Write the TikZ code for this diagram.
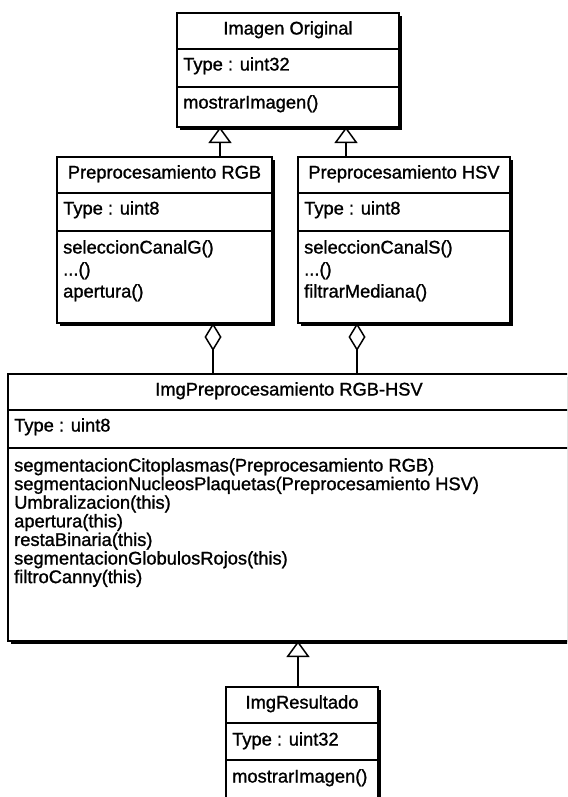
\documentclass[tikz,border=0pt]{standalone}
\usepackage{fontspec}
\setmainfont{Liberation Sans}
\newfontfamily\umlfont{Liberation Sans}[FakeBold=1.2]
\usetikzlibrary{arrows.meta,calc,shadows}
\begin{document}
\begin{tikzpicture}[x=1pt,y=-1pt,
  box/.style={draw=black, fill=white, line width=1.5pt, inner sep=0pt, outer sep=0pt, anchor=north west,
    general shadow={fill=black, shadow xshift=2.6pt, shadow yshift=-2.6pt}},
  sepline/.style={draw=black, line width=1.5pt},
  ttl/.style={font=\umlfont\fontsize{18.3}{20}\selectfont, inner sep=0pt, text height=13pt, text depth=4pt},
  mem/.style={ttl, anchor=west},
  inh/.style={draw=black, line width=1.5pt, -{Triangle[open, width=23pt, length=16pt, line width=1.5pt]}},
  agg/.style={draw=black, line width=1.5pt, -{Diamond[open, width=17pt, length=28pt, line width=1.5pt]}}
]
\useasboundingbox (0,0) rectangle (567,797);
\fill[white] (0,0) rectangle (567,797);
\clip (0,0) rectangle (567,797);

% Imagen Original
\node[box, minimum width=222pt, minimum height=114pt] (orig) at (177,13) {};
\draw[sepline] ([yshift=-36pt]orig.north west) -- ([yshift=-36pt]orig.north east);
\draw[sepline] ([yshift=-74pt]orig.north west) -- ([yshift=-74pt]orig.north east);
\node[ttl] (origT) at ([yshift=-17pt]orig.north) {Imagen Original};
\node[mem] (origA) at ([xshift=6pt,yshift=-53pt]orig.north west) {Type : uint32};
\node[mem] (origM) at ([xshift=6pt,yshift=-91pt]orig.north west) {mostrarImagen()};

% Preprocesamiento RGB
\node[box, minimum width=215pt, minimum height=166pt] (rgb) at (57,157) {};
\draw[sepline] ([yshift=-36pt]rgb.north west) -- ([yshift=-36pt]rgb.north east);
\draw[sepline] ([yshift=-74pt]rgb.north west) -- ([yshift=-74pt]rgb.north east);
\node[ttl] (rgbT) at ([yshift=-17pt]rgb.north) {Preprocesamiento RGB};
\node[mem] (rgbA) at ([xshift=6pt,yshift=-53pt]rgb.north west) {Type : uint8};
\node[mem] (rgbM1) at ([xshift=6pt,yshift=-92pt]rgb.north west) {seleccionCanalG()};
\node[mem] (rgbM2) at ([xshift=6pt,yshift=-114pt]rgb.north west) {...()};
\node[mem] (rgbM3) at ([xshift=6pt,yshift=-136pt]rgb.north west) {apertura()};

% Preprocesamiento HSV
\node[box, minimum width=212pt, minimum height=166pt] (hsv) at (298,157) {};
\draw[sepline] ([yshift=-36pt]hsv.north west) -- ([yshift=-36pt]hsv.north east);
\draw[sepline] ([yshift=-74pt]hsv.north west) -- ([yshift=-74pt]hsv.north east);
\node[ttl] (hsvT) at ([yshift=-17pt]hsv.north) {Preprocesamiento HSV};
\node[mem] (hsvA) at ([xshift=6pt,yshift=-53pt]hsv.north west) {Type : uint8};
\node[mem] (hsvM1) at ([xshift=6pt,yshift=-92pt]hsv.north west) {seleccionCanalS()};
\node[mem] (hsvM2) at ([xshift=6pt,yshift=-114pt]hsv.north west) {...()};
\node[mem] (hsvM3) at ([xshift=6pt,yshift=-136pt]hsv.north west) {filtrarMediana()};

% ImgPreprocesamiento RGB-HSV
\node[box, minimum width=562pt, minimum height=267pt] (big) at (8,374) {};
\draw[sepline] ([yshift=-36pt]big.north west) -- ([yshift=-36pt]big.north east);
\draw[sepline] ([yshift=-74pt]big.north west) -- ([yshift=-74pt]big.north east);
\node[ttl] (bigT) at ([yshift=-17pt]big.north) {ImgPreprocesamiento RGB-HSV};
\node[mem] (bigA) at ([xshift=6pt,yshift=-53pt]big.north west) {Type : uint8};
\node[mem] (bigM1) at ([xshift=6pt,yshift=-93pt]big.north west) {segmentacionCitoplasmas(Preprocesamiento RGB)};
\node[mem] (bigM2) at ([xshift=6pt,yshift=-111.6pt]big.north west) {segmentacionNucleosPlaquetas(Preprocesamiento HSV)};
\node[mem] (bigM3) at ([xshift=6pt,yshift=-130.2pt]big.north west) {Umbralizacion(this)};
\node[mem] (bigM4) at ([xshift=6pt,yshift=-148.8pt]big.north west) {apertura(this)};
\node[mem] (bigM5) at ([xshift=6pt,yshift=-167.4pt]big.north west) {restaBinaria(this)};
\node[mem] (bigM6) at ([xshift=6pt,yshift=-186pt]big.north west) {segmentacionGlobulosRojos(this)};
\node[mem] (bigM7) at ([xshift=6pt,yshift=-204.6pt]big.north west) {filtroCanny(this)};

% ImgResultado
\node[box, minimum width=152pt, minimum height=130pt] (res) at (226,687) {};
\draw[sepline] ([yshift=-36pt]res.north west) -- ([yshift=-36pt]res.north east);
\draw[sepline] ([yshift=-73pt]res.north west) -- ([yshift=-73pt]res.north east);
\node[ttl] (resT) at ([yshift=-17pt]res.north) {ImgResultado};
\node[mem] (resA) at ([xshift=6pt,yshift=-54pt]res.north west) {Type : uint32};
\node[mem] (resM) at ([xshift=6pt,yshift=-91pt]res.north west) {mostrarImagen()};

% connectors
\coordinate (i1) at ([xshift=163pt]rgb.north west);
\coordinate (i2) at ([xshift=48pt]hsv.north west);
\coordinate (a1) at ([xshift=205pt]big.north west);
\coordinate (a2) at ([xshift=349pt]big.north west);
\coordinate (i3) at ([xshift=72pt]res.north west);
\draw[inh] (i1) -- (i1 |- orig.south);
\draw[inh] (i2) -- (i2 |- orig.south);
\draw[agg] (a1) -- (a1 |- rgb.south);
\draw[agg] (a2) -- (a2 |- hsv.south);
\draw[inh] (i3) -- (i3 |- big.south);
\end{tikzpicture}
\end{document}
